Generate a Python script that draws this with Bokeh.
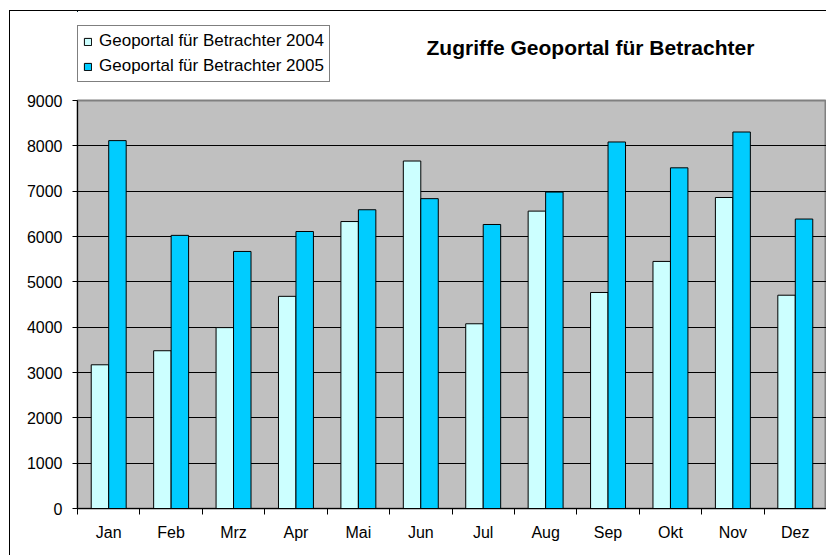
import numpy as np
from bokeh.plotting import figure
from bokeh.layouts import column
from bokeh.models import ColumnDataSource, FixedTicker, Legend, LegendItem, Label, Range1d
from bokeh.transform import dodge
from bokeh.embed import file_html
from bokeh.resources import INLINE

months = ["Jan", "Feb", "Mrz", "Apr", "Mai", "Jun", "Jul", "Aug", "Sep", "Okt", "Nov", "Dez"]
visits_2004 = [3170, 3480, 3990, 4680, 6330, 7665, 4075, 6560, 4765, 5450, 6860, 4705]
visits_2005 = [8115, 6025, 5670, 6110, 6590, 6835, 6265, 6980, 8085, 7515, 8305, 6385]
series_names = ["Geoportal für Betrachter 2004", "Geoportal für Betrachter 2005"]
colors = ["#CCFFFF", "#00CCFF"]
y_ticks = [0, 1000, 2000, 3000, 4000, 5000, 6000, 7000, 8000, 9000]
title_text = "Zugriffe Geoportal für Betrachter"

FONT = "Liberation Sans"
W = 816
HEAD_H = 80
BORDER_L = 67
BORDER_R = 0
FRAME_W = W - BORDER_L - BORDER_R

src = ColumnDataSource(dict(
    x=np.arange(len(months)) + 0.5,
    v04=visits_2004,
    v05=visits_2005,
))
bw = 0.28

# ---------------- main chart ----------------
p = figure(width=W, height=464, output_backend="svg", toolbar_location=None,
           x_range=Range1d(0, len(months)), y_range=Range1d(0, 9000),
           min_border_left=BORDER_L, min_border_top=9, min_border_bottom=47,
           min_border_right=BORDER_R)
p.border_fill_color = "white"
p.background_fill_color = "#C0C0C0"
p.outline_line_color = "#808080"
p.outline_line_width = 2

p.vbar(x=dodge("x", -bw / 2, range=p.x_range), top="v04", width=bw, source=src,
       fill_color=colors[0], line_color="black", line_width=1)
p.vbar(x=dodge("x", bw / 2, range=p.x_range), top="v05", width=bw, source=src,
       fill_color=colors[1], line_color="black", line_width=1)

p.xaxis.ticker = FixedTicker(ticks=list(np.arange(len(months)) + 0.5),
                             minor_ticks=list(range(len(months) + 1)))
p.xaxis.major_label_overrides = {float(i + 0.5): m for i, m in enumerate(months)}
p.xaxis.major_tick_line_color = None
p.xaxis.minor_tick_line_color = "black"
p.xaxis.minor_tick_out = 6
p.xaxis.minor_tick_in = 0
p.xaxis.axis_line_color = "black"
p.xaxis.major_label_standoff = 9
p.xaxis.major_label_text_font = FONT
p.xaxis.major_label_text_font_size = "16px"
p.xaxis.major_label_text_color = "black"

p.yaxis.ticker = FixedTicker(ticks=y_ticks, minor_ticks=[])
p.yaxis.major_tick_out = 5
p.yaxis.major_tick_in = 0
p.yaxis.major_tick_line_color = "black"
p.yaxis.minor_tick_line_color = None
p.yaxis.axis_line_color = "black"
p.yaxis.major_label_standoff = 10
p.yaxis.major_label_text_font = FONT
p.yaxis.major_label_text_font_size = "16px"
p.yaxis.major_label_text_color = "black"

p.xgrid.grid_line_color = None
p.ygrid.grid_line_color = "black"
p.ygrid.grid_line_width = 1
p.ygrid.ticker = FixedTicker(ticks=y_ticks)

# ---------------- header with legend and title ----------------
h = figure(width=W, height=HEAD_H, output_backend="svg", toolbar_location=None,
           x_range=Range1d(0, FRAME_W), y_range=Range1d(0, HEAD_H),
           min_border=0, x_axis_type=None, y_axis_type=None)
h.outline_line_color = None
h.background_fill_color = "white"
h.border_fill_color = "white"
h.xgrid.visible = False
h.ygrid.visible = False

# legend proxies: same data, bound to ranges that keep them far out of view
h.extra_x_ranges = {"hidden": Range1d(1e6, 1e6 + 1)}
h.extra_y_ranges = {"hidden": Range1d(-2, -1)}
proxies = [
    h.vbar(x="x", top=col, width=bw, source=src, fill_color=c, line_color="black",
           line_width=1, x_range_name="hidden", y_range_name="hidden")
    for col, c in zip(["v04", "v05"], colors)
]

legend = Legend(items=[LegendItem(label=n, renderers=[r]) for n, r in zip(series_names, proxies)],
                location=(0, 9))
legend.border_line_color = "black"
legend.border_line_width = 1
legend.background_fill_color = "white"
legend.background_fill_alpha = 1
legend.label_text_font = FONT
legend.label_text_font_size = "17px"
legend.label_text_color = "black"
legend.glyph_width = 9
legend.glyph_height = 9
legend.label_standoff = 7
legend.label_height = 20
legend.spacing = 5
legend.padding = 5
legend.margin = 0
h.add_layout(legend, "center")

h.add_layout(Label(x=349, y=44, x_units="screen", y_units="screen", text=title_text,
                   text_font=FONT, text_font_size="21px", text_font_style="bold",
                   text_color="black", text_align="left", text_baseline="middle"))

layout = column(h, p, spacing=0,
                styles={"margin-left": "9px", "margin-top": "10px",
                        "border-left": "1px solid black", "border-top": "1px solid black"})

open("out.html", "w").write(file_html(layout, INLINE))
